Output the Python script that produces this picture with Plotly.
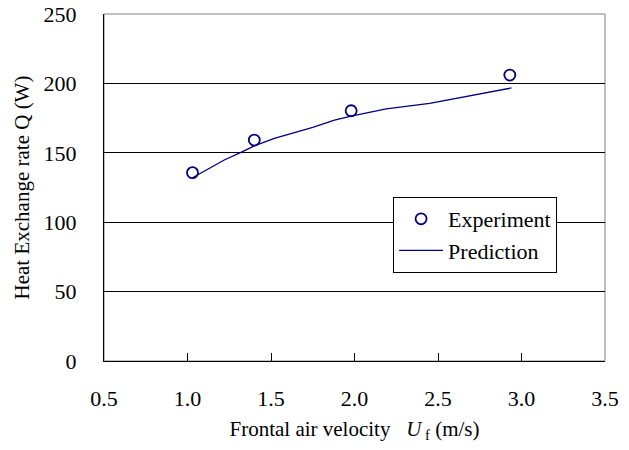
import plotly.graph_objects as go

# Experimental data
exp_velocity = [1.03, 1.40, 1.98, 2.93]
exp_heat = [135.7, 159.2, 180.3, 206.0]

# Prediction curve
pred_velocity = [1.03, 1.10, 1.22, 1.32, 1.40, 1.52, 1.64, 1.75, 1.88, 1.98, 2.19, 2.45, 2.94]
pred_heat = [132.0, 136.5, 144.8, 150.3, 155.0, 160.4, 164.5, 168.4, 173.6, 176.5, 181.6, 185.6, 196.7]

x_ticks = [0.5, 1.0, 1.5, 2.0, 2.5, 3.0, 3.5]
y_ticks = [0, 50, 100, 150, 200, 250]

NAVY = "#000080"
FONT = "Liberation Serif"

fig = go.Figure()
fig.add_trace(go.Scatter(
    x=exp_velocity, y=exp_heat, mode="markers", name="Experiment",
    marker=dict(symbol="circle-open", size=11, color=NAVY, line=dict(width=1.8, color=NAVY)),
))
fig.add_trace(go.Scatter(
    x=pred_velocity, y=pred_heat, mode="lines", name="Prediction",
    line=dict(color=NAVY, width=1.3),
))

fig.add_shape(type="rect", xref="paper", yref="paper", x0=0, y0=0, x1=1, y1=1,
              line=dict(color="#808080", width=1), layer="below")

fig.update_layout(
    width=629, height=450,
    margin=dict(l=104, r=24, t=14, b=89, autoexpand=False),
    paper_bgcolor="white", plot_bgcolor="white",
    font=dict(family=FONT, size=22, color="black"),
    showlegend=True,
    legend=dict(
        x=0.577, y=0.4726, xanchor="left", yanchor="top",
        bordercolor="black", borderwidth=1, bgcolor="white",
        font=dict(family=FONT, size=22, color="black"),
        itemwidth=44, tracegroupgap=0,
    ),
    xaxis=dict(
        range=[0.5, 3.5], tickvals=x_ticks, ticktext=[f"{v:.1f}" for v in x_ticks],
        showline=True, linecolor="black", linewidth=1,
        ticks="inside", ticklen=8, tickcolor="black", tickwidth=1,
        ticklabelstandoff=18, showgrid=False, zeroline=False,
        tickfont=dict(family=FONT, size=22, color="black"),
        title=dict(text="Frontal air velocity   <i>U</i><sub> f</sub> (m/s)", standoff=10,
                   font=dict(family=FONT, size=21, color="black")),
    ),
    yaxis=dict(
        range=[0, 250], tickvals=y_ticks,
        showline=True, linecolor="black", linewidth=1,
        ticks="", ticklabelstandoff=22,
        tickfont=dict(family=FONT, size=22, color="black"),
        showgrid=True, gridcolor="black", gridwidth=1, zeroline=False,
        title=dict(text="Heat Exchange rate Q (W)", standoff=8,
                   font=dict(family=FONT, size=21, color="black")),
    ),
)

fig.write_html("out.html")
